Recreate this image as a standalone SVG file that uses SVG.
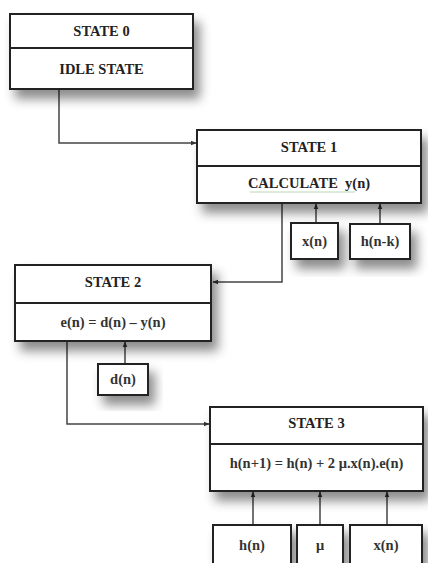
<svg xmlns="http://www.w3.org/2000/svg" width="428" height="563" viewBox="0 0 428 563">
<style>
.box{fill:#fff;stroke:#222;stroke-width:2}
.div{stroke:#222;stroke-width:2}
.t{font-family:"Liberation Serif","Times New Roman",serif;font-weight:bold;font-size:14.5px;fill:#222;text-anchor:middle}
.f{font-family:"Liberation Serif","Times New Roman",serif;font-weight:bold;font-size:14.5px;fill:#333;text-anchor:middle}
.c{fill:none;stroke:#444;stroke-width:1.5}
</style>
<defs>
<filter id="sh" x="-20%" y="-30%" width="150%" height="180%">
<feDropShadow dx="6" dy="9" stdDeviation="5.5" flood-color="#000" flood-opacity="0.45"/>
</filter>
<marker id="ah" viewBox="0 0 10 10" refX="9" refY="5" markerWidth="4" markerHeight="4" orient="auto">
<path d="M0,1 L10,5 L0,9 z" fill="#333"/>
</marker>
</defs>
<rect width="428" height="563" fill="#fff"/>
<g id="connectors">
<polyline class="c" points="59,89 59,143 196,143" marker-end="url(#ah)"/>
<polyline class="c" points="282,203 282,282 213,282" marker-end="url(#ah)"/>
<polyline class="c" points="67,341 67,424 209,424" marker-end="url(#ah)"/>
<line class="c" x1="316" y1="223" x2="316" y2="204" marker-end="url(#ah)"/>
<line class="c" x1="380" y1="224" x2="380" y2="204" marker-end="url(#ah)"/>
<line class="c" x1="125" y1="364" x2="125" y2="342" marker-end="url(#ah)"/>
<line class="c" x1="253" y1="525" x2="253" y2="492" marker-end="url(#ah)"/>
<line class="c" x1="320" y1="525" x2="320" y2="492" marker-end="url(#ah)"/>
<line class="c" x1="387" y1="525" x2="387" y2="492" marker-end="url(#ah)"/>
</g>
<g id="state0">
<rect class="box" x="10" y="14" width="183" height="75" filter="url(#sh)"/>
<line class="div" x1="10" y1="48" x2="193" y2="48"/>
<text class="t" x="101.5" y="36">STATE 0</text>
<text class="t" x="101.5" y="74">IDLE STATE</text>
</g>
<g id="state1">
<rect class="box" x="197" y="130" width="224" height="73" filter="url(#sh)"/>
<line class="div" x1="197" y1="166" x2="421" y2="166"/>
<text class="t" x="309" y="152">STATE 1</text>
<line x1="250" y1="192" x2="355" y2="192" stroke="#b8d8b0" stroke-width="1"/>
<text class="t" x="309" y="188" xml:space="preserve">CALCULATE  y(n)</text>
</g>
<g id="in_xn1">
<rect class="box" x="291" y="223" width="47" height="36" filter="url(#sh)"/>
<text class="f" x="314.5" y="246">x(n)</text>
</g>
<g id="in_hnk">
<rect class="box" x="350" y="224" width="60" height="35" filter="url(#sh)"/>
<text class="f" x="380" y="246">h(n-k)</text>
</g>
<g id="state2">
<rect class="box" x="15" y="265" width="196" height="76" filter="url(#sh)"/>
<line class="div" x1="15" y1="303" x2="211" y2="303"/>
<text class="t" x="113" y="287">STATE 2</text>
<text class="f" x="113" y="327">e(n) = d(n) – y(n)</text>
</g>
<g id="in_dn">
<rect class="box" x="98" y="364" width="50" height="31" filter="url(#sh)"/>
<text class="f" x="123" y="384">d(n)</text>
</g>
<g id="state3">
<rect class="box" x="210" y="407" width="213" height="84" filter="url(#sh)"/>
<line class="div" x1="210" y1="444" x2="423" y2="444"/>
<text class="t" x="316.5" y="428">STATE 3</text>
<text class="f" x="316.5" y="468">h(n+1) = h(n) + 2 μ.x(n).e(n)</text>
</g>
<g id="in_hn">
<rect class="box" x="213" y="525" width="78" height="40" filter="url(#sh)"/>
<text class="f" x="252" y="550">h(n)</text>
</g>
<g id="in_mu">
<rect class="box" x="297" y="525" width="46" height="40" filter="url(#sh)"/>
<text class="f" x="320" y="550">μ</text>
</g>
<g id="in_xn3">
<rect class="box" x="350" y="525" width="72" height="40" filter="url(#sh)"/>
<text class="f" x="386" y="550">x(n)</text>
</g>
</svg>
